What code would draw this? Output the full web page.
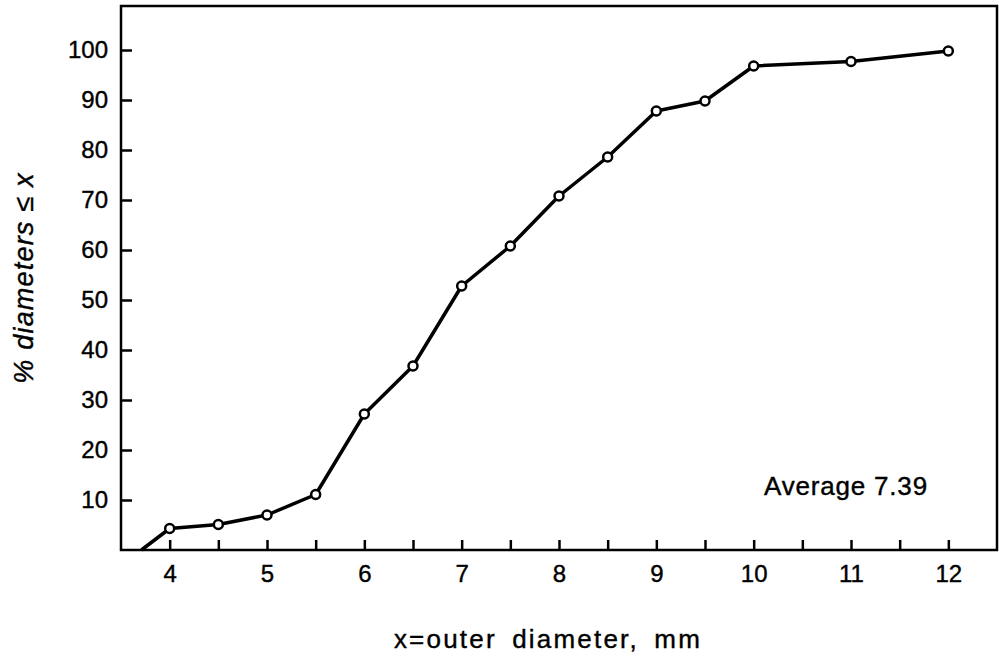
<!DOCTYPE html>
<html lang="en">
  <head>
    <meta charset="UTF-8" />
    <title>Cumulative outer diameter distribution</title>
    <script src="https://d3js.org/d3.v7.min.js"></script>
    <style>
      body {
        margin: 0;
        background: #fff;
      }
      svg text {
        font-family: "Liberation Sans", Arial, sans-serif;
        fill: #000;
        stroke: #000;
        stroke-width: 0.4px;
      }
    </style>
  </head>
  <body>
    <div id="chart"></div>
    <script>
      // outer diameter (mm) and cumulative percent
      const diameters = [3.71, 4, 4.5, 5, 5.5, 6, 6.5, 7, 7.5, 8, 8.5, 9, 9.5, 10, 11, 12];
      const percents = [0, 4.3, 5.1, 7.0, 11.1, 27.2, 36.8, 52.8, 60.8, 70.8, 78.6, 87.8, 89.8, 96.8, 97.7, 99.8];
      // the first point is where the curve leaves the axis, no marker there
      const markerFrom = 1;
      const xTickLabels = [4, 5, 6, 7, 8, 9, 10, 11, 12];
      const yTickLabels = [10, 20, 30, 40, 50, 60, 70, 80, 90, 100];
      const note = "Average 7.39";

      const width = 999,
        height = 665;
      const margin = { top: 6, right: 2, bottom: 115, left: 121 };

      const svg = d3
        .select("#chart")
        .append("svg")
        .attr("width", width)
        .attr("height", height);

      const x = d3
        .scaleLinear()
        .domain([3.5, 12.5])
        .range([margin.left, width - margin.right]);
      const y = d3
        .scaleLinear()
        .domain([0, 108.8])
        .range([height - margin.bottom, margin.top]);

      const data = diameters.map((d, i) => ({ x: d, y: percents[i] }));

      // x axis: ticks every 0.5, pointing inward, labels on whole numbers
      const xAxis = d3
        .axisBottom(x)
        .tickValues(d3.range(4, 12.01, 0.5))
        .tickSizeInner(-10)
        .tickSizeOuter(0)
        .tickPadding(15)
        .tickFormat((d) => (xTickLabels.includes(d) ? d : ""));
      const gx = svg
        .append("g")
        .attr("transform", `translate(0,${y(0)})`)
        .call(xAxis);
      gx.select(".domain").remove();
      gx.selectAll(".tick line").attr("stroke", "#000").attr("stroke-width", 2.5);
      gx.selectAll(".tick text").attr("font-size", 24).attr("dy", "0.71em");

      const yAxis = d3
        .axisLeft(y)
        .tickValues(yTickLabels)
        .tickSizeInner(-11)
        .tickSizeOuter(0)
        .tickPadding(13);
      const gy = svg
        .append("g")
        .attr("transform", `translate(${x(3.5)},0)`)
        .call(yAxis);
      gy.select(".domain").remove();
      gy.selectAll(".tick line").attr("stroke", "#000").attr("stroke-width", 2.5);
      gy.selectAll(".tick text").attr("font-size", 24);

      // frame
      svg
        .append("rect")
        .attr("x", x(3.5))
        .attr("y", y(108.8))
        .attr("width", x(12.5) - x(3.5))
        .attr("height", y(0) - y(108.8))
        .attr("fill", "none")
        .attr("stroke", "#000")
        .attr("stroke-width", 2.5);

      const line = d3
        .line()
        .x((d) => x(d.x))
        .y((d) => y(d.y));

      svg
        .append("path")
        .datum(data)
        .attr("d", line)
        .attr("fill", "none")
        .attr("stroke", "#000")
        .attr("stroke-width", 3.5)
        .attr("stroke-linejoin", "round");

      svg
        .selectAll("circle.pt")
        .data(data.slice(markerFrom))
        .enter()
        .append("circle")
        .attr("class", "pt")
        .attr("cx", (d) => x(d.x))
        .attr("cy", (d) => y(d.y))
        .attr("r", 4.5)
        .attr("fill", "#fff")
        .attr("stroke", "#000")
        .attr("stroke-width", 2.5);

      // annotation
      svg
        .append("text")
        .attr("x", 846)
        .attr("y", 495)
        .attr("text-anchor", "middle")
        .attr("font-size", 26)
        .attr("letter-spacing", 0.8)
        .text(note);

      // axis titles
      svg
        .append("text")
        .attr("x", 548)
        .attr("y", 648)
        .attr("text-anchor", "middle")
        .attr("font-size", 26)
        .attr("letter-spacing", 2.2)
        .attr("word-spacing", 6)
        .text("x=outer diameter, mm");

      svg
        .append("text")
        .attr("transform", `translate(33,278) rotate(-90)`)
        .attr("text-anchor", "middle")
        .attr("font-size", 27)
        .attr("font-style", "italic")
        .attr("letter-spacing", 1.2)
        .text("% diameters ≤ x");
    </script>
  </body>
</html>
